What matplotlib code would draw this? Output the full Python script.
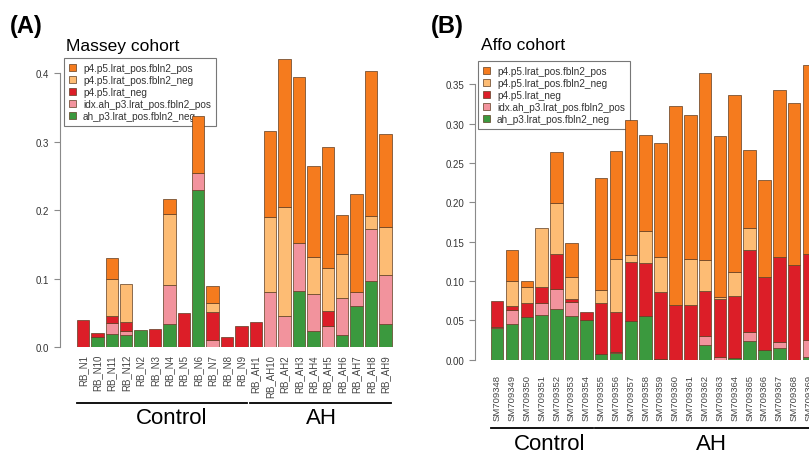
import numpy as np
import matplotlib
matplotlib.use("Agg")
import matplotlib.pyplot as plt
import matplotlib.transforms as mtransforms
from matplotlib.patches import Patch

plt.rcParams['font.family'] = ['Liberation Sans', 'DejaVu Sans']

W, H = 809, 460

series_names = ["ah_p3.lrat_pos.fbln2_neg", "idx.ah_p3.lrat_pos.fbln2_pos",
                "p4.p5.lrat_neg", "p4.p5.lrat_pos.fbln2_neg", "p4.p5.lrat_pos.fbln2_pos"]
series_colors = ["#3b993e", "#f2939d", "#dc1e28", "#fdbc74", "#f57b1e"]

# Massey cohort (panel A), stacked bottom -> top
massey_samples = ["RB_N1", "RB_N10", "RB_N11", "RB_N12", "RB_N2", "RB_N3", "RB_N4", "RB_N5",
                  "RB_N6", "RB_N7", "RB_N8", "RB_N9", "RB_AH1", "RB_AH10", "RB_AH2", "RB_AH3",
                  "RB_AH4", "RB_AH5", "RB_AH6", "RB_AH7", "RB_AH8", "RB_AH9"]
massey_green = [0, .015, .0186, .017, .0245, 0, .033, 0, .229, 0, 0, 0,
                0, 0, 0, .082, .023, 0, .0175, .060, .096, .034]
massey_pink = [0, 0, .0164, .007, 0, 0, .0577, 0, .026, .010, 0, 0,
               0, .081, .045, .070, .054, .030, .0545, .020, .077, .071]
massey_red = [.040, .0056, .0106, .013, 0, .0265, 0, .049, 0, .0405, .015, .030,
              .037, 0, 0, 0, 0, .022, 0, 0, 0, 0]
massey_lorange = [0, 0, .054, .055, 0, 0, .103, 0, 0, .0135, 0, 0,
                  0, .109, .160, 0, .054, .064, .064, 0, .019, .071]
massey_orange = [0, 0, .0305, 0, 0, 0, .022, 0, .083, .025, 0, 0,
                 0, .126, .216, .243, .134, .177, .057, .144, .211, .135]
massey_groups = [("Control", 0, 11), ("AH", 12, 21)]

# Affo cohort (panel B)
affo_samples = ["SM709348", "SM709349", "SM709350", "SM709351", "SM709352", "SM709353",
                "SM709354", "SM709355", "SM709356", "SM709357", "SM709358", "SM709359",
                "SM709360", "SM709361", "SM709362", "SM709363", "SM709364", "SM709365",
                "SM709366", "SM709367", "SM709368", "SM709369"]
affo_green = [.040, .045, .054, .057, .065, .055, .051, .0077, .0085, .0496, .056, .001,
              0, 0, .019, 0, .002, .024, .012, .015, 0, .003]
affo_pink = [.002, .018, 0, .015, .025, .0185, 0, 0, .001, 0, 0, 0,
             0, 0, .0107, .004, 0, .011, 0, .008, 0, .022]
affo_red = [.033, .005, .018, .020, .044, .0035, .010, .065, .0515, .0744, .0665, .0855,
            .0695, .0695, .0573, .073, .079, .105, .093, .108, .120, .109]
affo_lorange = [0, .032, .020, .075, .065, .0285, 0, .0163, .067, .009, .0415, .0445,
                0, .0585, .040, .003, .030, .028, 0, 0, 0, 0]
affo_orange = [0, .039, .0076, 0, .065, .0435, 0, .142, .137, .1715, .122, .145,
               .2535, .183, .237, .204, .226, .099, .124, .212, .206, .241]
affo_groups = [("Control", 0, 6), ("AH", 7, 21)]

fig = plt.figure(figsize=(W / 100, H / 100), dpi=100)


def px_rect(left, top, right, bottom):
    return [left / W, 1 - bottom / H, (right - left) / W, (bottom - top) / H]


def draw_panel(rect, xlim, ylim, yticks, ylabels, samples, stacks, xfont, xpad):
    ax = fig.add_axes(rect)
    x = np.arange(len(samples))
    bottom = np.zeros(len(samples))
    for vals, col in zip(stacks, series_colors):
        v = np.array(vals)
        m = v > 0
        ax.bar(x[m], v[m], width=0.85, bottom=bottom[m], color=col,
               edgecolor="#5e3d22", linewidth=0.5, zorder=2)
        bottom += v
    ax.set_xlim(*xlim)
    ax.set_ylim(*ylim)
    for s in ["top", "right", "bottom"]:
        ax.spines[s].set_visible(False)
    ax.spines["left"].set_bounds(yticks[0], yticks[-1])
    ax.spines["left"].set_color("#8a8a8a")
    ax.spines["left"].set_linewidth(0.8)
    ax.set_yticks(yticks)
    ax.set_yticklabels(ylabels, fontsize=7, color="#333333")
    ax.tick_params(axis="y", length=4, color="#8a8a8a", width=0.8, pad=4)
    ax.set_xticks(x)
    ax.set_xticklabels(samples, rotation=90, fontsize=xfont, color="#444444", va="top")
    ax.tick_params(axis="x", length=0, pad=xpad)
    return ax


def draw_groups(ax, groups, line_y, label_pos):
    tr = mtransforms.blended_transform_factory(ax.transData, fig.transFigure)
    for (name, i0, i1), (lx, ly) in zip(groups, label_pos):
        ax.plot([i0 - 0.42, i1 + 0.42], [1 - line_y / H] * 2, color="black",
                lw=1.3, transform=tr, clip_on=False)
        fig.text(lx / W, 1 - ly / H, name, fontsize=16, ha="center", va="center")


def draw_legend(ax, left, top):
    handles = [Patch(facecolor=c, edgecolor="#5e3d22", linewidth=0.5)
               for c in series_colors[::-1]]
    leg = ax.legend(handles, series_names[::-1], loc="upper left",
                    bbox_to_anchor=(left / W, 1 - top / H),
                    bbox_transform=fig.transFigure,
                    fontsize=7.2, handlelength=0.7, handleheight=0.7, handletextpad=0.7,
                    labelspacing=0.2, borderpad=0.5, borderaxespad=0,
                    fancybox=False, framealpha=1)
    leg.get_frame().set_edgecolor("#777777")
    leg.get_frame().set_linewidth(0.8)
    for t in leg.get_texts():
        t.set_color("#333333")
    leg.set_zorder(1)


# Panel A
axA = draw_panel(px_rect(60, 47, 395, 348), (-1.597, 21.667), (0, 0.44),
                 [0, 0.1, 0.2, 0.3, 0.4], ["0.0", "0.1", "0.2", "0.3", "0.4"],
                 massey_samples,
                 [massey_green, massey_pink, massey_red, massey_lorange, massey_orange],
                 7, 5)
draw_groups(axA, massey_groups, 404, [(171.7, 419), (321.7, 419)])
draw_legend(axA, 64, 59)
fig.text(10 / W, 1 - 27 / H, "(A)", fontsize=17, fontweight="bold", va="center")
fig.text(66 / W, 1 - 46 / H, "Massey cohort", fontsize=12.5, va="center")

# Panel B
axB = draw_panel(px_rect(475, 54, 809, 360.7), (-1.494, 20.88), (0, 0.39),
                 [0, 0.05, 0.1, 0.15, 0.2, 0.25, 0.3, 0.35],
                 ["0.00", "0.05", "0.10", "0.15", "0.20", "0.25", "0.30", "0.35"],
                 affo_samples,
                 [affo_green, affo_pink, affo_red, affo_lorange, affo_orange],
                 6.8, 10)
draw_groups(axB, affo_groups, 429, [(550, 445), (711, 445)])
draw_legend(axB, 478, 62)
fig.text(431 / W, 1 - 27 / H, "(B)", fontsize=17, fontweight="bold", va="center")
fig.text(481 / W, 1 - 46 / H, "Affo cohort", fontsize=12.5, va="center")

fig.savefig("out.png", dpi=100)
